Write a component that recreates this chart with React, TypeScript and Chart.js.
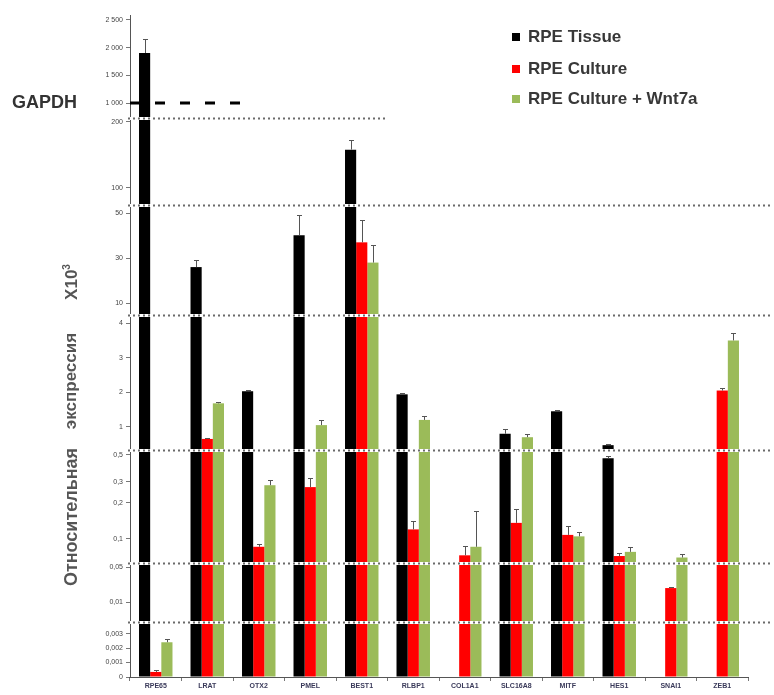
import React, { useEffect, useRef } from "react";
import { Chart, registerables } from "chart.js";

Chart.register(...registerables);

// ---------------- data ----------------
const categories = ["RPE65", "LRAT", "OTX2", "PMEL", "BEST1", "RLBP1", "COL1A1", "SLC16A8", "MITF", "HES1", "SNAI1", "ZEB1"];

const seriesNames = ["RPE Tissue", "RPE Culture", "RPE Culture + Wnt7a"];

const tissue = [1903, 26, 2.03, 40.2, 158, 1.94, 0, 0.8, 1.45, 0.47, 0, 0];
const culture = [0.00035, 0.65, 0.086, 0.27, 37, 0.12, 0.073, 0.136, 0.108, 0.072, 0.019, 2.05];
const wnt7a = [0.0024, 1.68, 0.28, 1.05, 28, 1.2, 0.086, 0.7, 0.105, 0.078, 0.07, 3.5];

const errTissue = [250, 3, 0.05, 9, 15, 0.05, 0, 0.15, 0.05, 0.02, 0, 0];
const errCulture = [0.0001, 0.03, 0.005, 0.05, 10, 0.02, 0.015, 0.04, 0.02, 0.005, 0.001, 0.06];
const errWnt7a = [0.0002, 0.05, 0.03, 0.15, 8, 0.1, 0.085, 0.08, 0.01, 0.008, 0.005, 0.2];

// broken value axis: one band per range
const bandMin = [729, 74, 4.7, 0.33, 0.063, 0.004, 0];
const bandMax = [2590, 206, 53.6, 4.235, 0.55, 0.0601, 0.0038];
const bandTicks = [
  [1000, 1500, 2000, 2500],
  [100, 200],
  [10, 30, 50],
  [1, 2, 3, 4],
  [0.1, 0.2, 0.3, 0.5],
  [0.01, 0.05],
  [0, 0.001, 0.002, 0.003],
];
const bandType = ["linear", "linear", "linear", "linear", "logarithmic", "logarithmic", "linear"];
const gapdhLevel = 1000;

// ---------------- styles / layout ----------------
const seriesColors = ["#000000", "#ff0000", "#9bbb59"];
const bandHeights = [103, 87, 110, 135, 113, 59, 55];

const fmt = (v: number) => {
  if (v >= 1000) {
    const th = Math.floor(v / 1000);
    const r = Math.round(v % 1000);
    return th + " " + String(r).padStart(3, "0");
  }
  return String(v).replace(".", ",");
};

const bandPlugin = {
  id: "bandPlugin",
  beforeDatasetDraw(chart: any, args: any) {
    const ys = args.meta.yScale;
    const ca = chart.chartArea;
    const ctx = chart.ctx;
    ctx.save();
    ctx.beginPath();
    ctx.rect(ca.left, ys.top, ca.right - ca.left, ys.bottom - ys.top);
    ctx.clip();
  },
  afterDatasetDraw(chart: any, args: any) {
    const ctx = chart.ctx;
    const meta = args.meta;
    const ds = chart.data.datasets[args.index];
    const ys = meta.yScale;
    const errs = ds.errors as number[];
    ctx.strokeStyle = "#555";
    ctx.lineWidth = 1;
    meta.data.forEach((bar: any, i: number) => {
      const v = ds.data[i];
      const e = errs[i];
      if (!v || !e) return;
      if (v < ys.min) return;
      const x = Math.round(bar.x) + 0.5;
      const y0 = ys.getPixelForValue(v);
      const y1 = Math.round(ys.getPixelForValue(v + e)) + 0.5;
      ctx.beginPath();
      ctx.moveTo(x, y0);
      ctx.lineTo(x, y1);
      ctx.moveTo(x - 2.5, y1);
      ctx.lineTo(x + 2.5, y1);
      ctx.stroke();
    });
    ctx.restore();
  },
  afterDatasetsDraw(chart: any) {
    const ctx = chart.ctx;
    const ca = chart.chartArea;
    ctx.save();
    for (let b = 1; b < bandMin.length; b++) {
      const y = Math.round(chart.scales["y" + b].top) + 0.5;
      const x1 = b === 1 ? 388 : 772;
      ctx.setLineDash([]);
      ctx.strokeStyle = "#ffffff";
      ctx.lineWidth = 3;
      ctx.beginPath();
      ctx.moveTo(ca.left - 2, y);
      ctx.lineTo(x1, y);
      ctx.stroke();
      ctx.setLineDash([2, 3]);
      ctx.strokeStyle = "#6a6a6a";
      ctx.lineWidth = 2;
      ctx.beginPath();
      ctx.moveTo(ca.left - 2, y);
      ctx.lineTo(x1, y);
      ctx.stroke();
    }
    // GAPDH reference level
    const gy = chart.scales.y0.getPixelForValue(gapdhLevel);
    ctx.setLineDash([10, 15]);
    ctx.strokeStyle = "#000";
    ctx.lineWidth = 3;
    ctx.beginPath();
    ctx.moveTo(ca.left, gy);
    ctx.lineTo(250, gy);
    ctx.stroke();
    ctx.restore();
  },
};

export default function App() {
  const ref = useRef<HTMLCanvasElement | null>(null);

  useEffect(() => {
    if (!ref.current) return;
    const seriesValues = [tissue, culture, wnt7a];
    const seriesErrors = [errTissue, errCulture, errWnt7a];
    const datasets: any[] = [];
    for (let b = 0; b < bandMin.length; b++) {
      for (let s = 0; s < 3; s++) {
        datasets.push({
          label: seriesNames[s],
          data: seriesValues[s],
          errors: seriesErrors[s],
          backgroundColor: seriesColors[s],
          borderWidth: 0,
          yAxisID: "y" + b,
          stack: "s" + s,
          categoryPercentage: 0.65,
          barPercentage: 1,
          clip: 0,
        });
      }
    }
    const scales: any = {
      x: {
        type: "category",
        offset: true,
        grid: { offset: true, drawOnChartArea: false, tickLength: 4, color: "#777" },
        border: { color: "#555" },
        ticks: {
          font: { size: 7, weight: "bold", family: "Liberation Sans" },
          color: "#3a3a5a",
          padding: 1,
          maxRotation: 0,
          autoSkip: false,
        },
        afterFit: (s: any) => {
          s.height = 18;
        },
      },
    };
    for (let b = 0; b < bandMin.length; b++) {
      scales["y" + b] = {
        type: bandType[b],
        position: "left",
        stack: "bands",
        stackWeight: bandHeights[b],
        weight: 10 - b,
        min: bandMin[b],
        max: bandMax[b],
        bounds: "data",
        stacked: false,
        grid: { drawOnChartArea: false, tickLength: 4, color: "#777" },
        border: { color: "#555" },
        ticks: {
          autoSkip: false,
          font: { size: 7, family: "Liberation Sans" },
          color: "#444",
          padding: 3,
          callback: (v: any) => fmt(Number(v)),
        },
        afterBuildTicks: (s: any) => {
          s.ticks = bandTicks[b].map((v) => ({ value: v }));
        },
        afterFit: (s: any) => {
          s.width = 40;
        },
      };
    }
    const chart = new Chart(ref.current, {
      type: "bar",
      data: { labels: categories, datasets },
      options: {
        responsive: false,
        animation: false,
        devicePixelRatio: 1,
        layout: { padding: { left: 90, right: 26, top: 15, bottom: 0 } },
        plugins: { legend: { display: false }, tooltip: { enabled: false } },
        scales,
      } as any,
      plugins: [bandPlugin],
    });
    return () => chart.destroy();
  }, []);

  const legendItem = (i: number, top: number) => (
    <div key={i} style={{ position: "absolute", left: 512, top, height: 20, display: "flex", alignItems: "center" }}>
      <div style={{ width: 8, height: 8, background: seriesColors[i], marginRight: 8 }} />
      <span style={{ font: "bold 17px 'Liberation Sans', Arial, sans-serif", color: "#383838", whiteSpace: "nowrap" }}>
        {seriesNames[i]}
      </span>
    </div>
  );

  const vText = (txt: React.ReactNode, cy: number, size: number) => (
    <div
      style={{
        position: "absolute",
        left: 71,
        top: cy,
        transform: "translate(-50%, -50%) rotate(-90deg)",
        font: `bold ${size}px 'Liberation Sans', Arial, sans-serif`,
        color: "#555",
        whiteSpace: "nowrap",
      }}
    >
      {txt}
    </div>
  );

  return (
    <div style={{ position: "fixed", left: 0, top: 0, width: 774, height: 695, background: "#fff" }}>
      <canvas ref={ref} width={774} height={695} style={{ position: "absolute", left: 0, top: 0 }} />
      {legendItem(0, 27)}
      {legendItem(1, 59)}
      {legendItem(2, 89)}
      <div
        style={{
          position: "absolute",
          left: 12,
          top: 92,
          font: "bold 18px 'Liberation Sans', Arial, sans-serif",
          color: "#333",
        }}
      >
        GAPDH
      </div>
      {vText(
        <span>
          X10<sup style={{ fontSize: 10 }}>3</sup>
        </span>,
        282,
        17
      )}
      {vText("экспрессия", 381, 17)}
      {vText("Относительная", 517, 18)}
    </div>
  );
}
